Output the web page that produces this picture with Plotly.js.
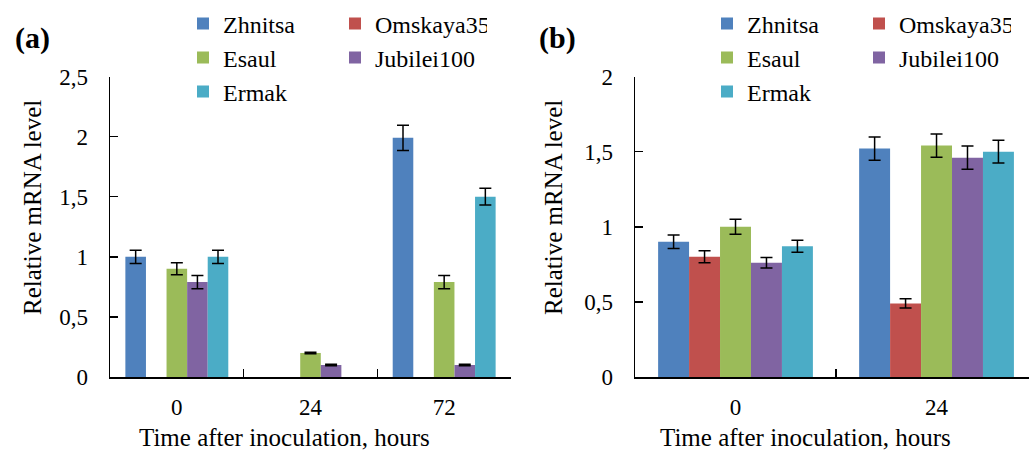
<!DOCTYPE html>
<html>
<head>
<meta charset="utf-8">
<script src="https://cdn.plot.ly/plotly-3.0.1.min.js"></script>
<style>
html,body{margin:0;padding:0;background:#fff;}
#chart{width:1029px;height:453px;}
</style>
</head>
<body>
<div id="chart"></div>
<script>
// ----- data -----
const cultivars = ["Zhnitsa", "Omskaya35", "Esaul", "Jubilei100", "Ermak"];
const colors = ["#4F81BD", "#C0504D", "#9BBB59", "#8064A2", "#4BACC6"];

// panel (a)
const timesA = ["0", "24", "72"];
const zhnitsaA = [1.0, null, 1.99];
const omskayaA = [null, null, null];
const esaulA = [0.9, 0.2, 0.79];
const jubileiA = [0.79, 0.1, 0.1];
const ermakA = [1.0, null, 1.5];
const zhnitsaAErr = [0.055, 0, 0.105];
const omskayaAErr = [0, 0, 0];
const esaulAErr = [0.05, 0.006, 0.055];
const jubileiAErr = [0.055, 0.006, 0.006];
const ermakAErr = [0.055, 0, 0.07];

// panel (b)
const timesB = ["0", "24"];
const zhnitsaB = [0.9, 1.52];
const omskayaB = [0.8, 0.49];
const esaulB = [1.0, 1.54];
const jubileiB = [0.76, 1.46];
const ermakB = [0.87, 1.5];
const zhnitsaBErr = [0.045, 0.078];
const omskayaBErr = [0.04, 0.031];
const esaulBErr = [0.05, 0.078];
const jubileiBErr = [0.035, 0.078];
const ermakBErr = [0.04, 0.075];

const xTitle = "Time after inoculation, hours";
const yTitle = "Relative mRNA level";

const seriesA = [zhnitsaA, omskayaA, esaulA, jubileiA, ermakA];
const errA = [zhnitsaAErr, omskayaAErr, esaulAErr, jubileiAErr, ermakAErr];
const seriesB = [zhnitsaB, omskayaB, esaulB, jubileiB, ermakB];
const errB = [zhnitsaBErr, omskayaBErr, esaulBErr, jubileiBErr, ermakBErr];

// ----- figure -----
const FONT = "Liberation Serif";
const W = 1029, H = 453;
const rowOf = [0, 0, 1, 1, 2];
const legNamesA = ["legend", "legend2", "legend3"];
const legNamesB = ["legend4", "legend5", "legend6"];

const traces = [];
cultivars.forEach((name, i) => {
  traces.push({
    type: "bar", name: name, x: timesA, y: seriesA[i],
    xaxis: "x", yaxis: "y",
    marker: {color: colors[i], line: {width: 0}},
    error_y: {type: "data", array: errA[i], visible: true, color: "#000", thickness: 1.5, width: 6},
    legend: legNamesA[rowOf[i]], hoverinfo: "x+y"
  });
});
cultivars.forEach((name, i) => {
  traces.push({
    type: "bar", name: name, x: timesB, y: seriesB[i],
    xaxis: "x2", yaxis: "y2",
    marker: {color: colors[i], line: {width: 0}},
    error_y: {type: "data", array: errB[i], visible: true, color: "#000", thickness: 1.5, width: 6},
    legend: legNamesB[rowOf[i]], hoverinfo: "x+y"
  });
});

const yDom = [1 - 377 / H, 1 - 76.5 / H];
const tickFont = {family: FONT, size: 23, color: "#000"};
const titleFont = {family: FONT, size: 25, color: "#000"};
function xAxis(domain, range) {
  return {
    domain: domain, type: "category", range: range,
    showline: true, linecolor: "#000", linewidth: 1.5,
    ticks: "inside", tickson: "boundaries", ticklen: 8, tickwidth: 1.5, tickcolor: "#000",
    showgrid: false, zeroline: false, fixedrange: true,
    tickfont: tickFont, ticklabelstandoff: 9
  };
}
function yAxis(range, anchor) {
  return {
    domain: yDom, range: range, anchor: anchor, dtick: 0.5,
    showline: true, linecolor: "#000", linewidth: 1.5,
    ticks: "inside", ticklen: 8, tickwidth: 1.5, tickcolor: "#000",
    showgrid: false, zeroline: false, fixedrange: true,
    tickfont: tickFont, ticklabelstandoff: 16
  };
}
function leg(xpx, ycpx) {
  return {
    orientation: "h", x: xpx / W, xanchor: "left", y: 1 - ycpx / H, yanchor: "middle",
    font: {family: FONT, size: 24, color: "#000"}, bgcolor: "rgba(0,0,0,0)",
    entrywidth: 107, entrywidthmode: "pixels", itemclick: false, itemdoubleclick: false,
    tracegroupgap: 0
  };
}
const rowY = [24, 58, 92];
function ann(text, xpx, ypx, angle, yanchor) {
  return {text: text, xref: "paper", yref: "paper", x: xpx / W, y: 1 - ypx / H,
    xanchor: "center", yanchor: yanchor || "middle", showarrow: false, borderpad: 0,
    textangle: angle || 0, font: titleFont};
}

const layout = {
  width: W, height: H,
  margin: {l: 0, r: 0, t: 0, b: 0},
  paper_bgcolor: "#fff", plot_bgcolor: "#fff",
  separators: ", ",
  barmode: "group", bargap: 0.23, bargroupgap: 0,
  font: {family: FONT, size: 22, color: "#000"},
  showlegend: true,
  xaxis: xAxis([110 / W, 511 / W], [-0.5, 2.5]),
  yaxis: yAxis([0, 2.5], "x"),
  xaxis2: xAxis([635 / W, 1], [-0.5, 1.46]),
  yaxis2: yAxis([0, 2], "x2"),
  legend: leg(183, rowY[0]), legend2: leg(183, rowY[1]), legend3: leg(183, rowY[2]),
  legend4: leg(707, rowY[0]), legend5: leg(707, rowY[1]), legend6: leg(707, rowY[2]),
  annotations: [
    ann(xTitle, 284, 452, 0, "bottom"), ann(xTitle, 805, 452, 0, "bottom"),
    ann(yTitle, 32, 208, -90), ann(yTitle, 553, 208, -90),
    {text: "<b>(a)</b>", xref: "paper", yref: "paper", x: 32 / W, y: 1 - 38 / H,
     xanchor: "center", yanchor: "middle", showarrow: false, font: {family: FONT, size: 30, color: "#000"}},
    {text: "<b>(b)</b>", xref: "paper", yref: "paper", x: 557 / W, y: 1 - 38 / H,
     xanchor: "center", yanchor: "middle", showarrow: false, font: {family: FONT, size: 30, color: "#000"}}
  ]
};

function cleanTextStyles(gd) {
  gd.querySelectorAll("text").forEach(function (el) {
    ["text-shadow", "text-decoration-line", "text-transform", "font-variant", "font-style"].forEach(function (p) {
      el.style.removeProperty(p);
    });
    el.style.setProperty("font-family", FONT);
    el.setAttribute("font-family", FONT);
  });
}

Plotly.newPlot("chart", traces, layout, {displayModeBar: false, staticPlot: true})
  .then(cleanTextStyles);
</script>
</body>
</html>
